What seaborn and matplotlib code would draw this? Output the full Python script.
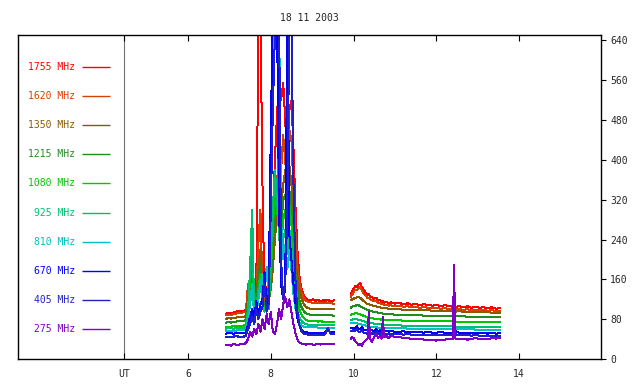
import matplotlib
matplotlib.use("Agg")
import matplotlib.pyplot as plt
import numpy as np
import pandas as pd
import seaborn as sns

title = "18 11 2003"
freqs = ["1755 MHz", "1620 MHz", "1350 MHz", "1215 MHz", "1080 MHz",
         "925 MHz", "810 MHz", "670 MHz", "405 MHz", "275 MHz"]
colors = ["#ff0000", "#d84000", "#8b5a00", "#228b22", "#00c800",
          "#00c070", "#00c0c0", "#0000ff", "#2020c8", "#8000c8"]

xticks = [6, 8, 10, 12, 14]
yticks = [0, 80, 160, 240, 320, 400, 480, 560, 640]
ut_hour = 4.45

# segment 1 time grid (hours UT): pre-burst, burst, post-burst
t1_pre = [6.92, 6.98, 7.04, 7.10, 7.16, 7.22, 7.28]
t1_burst = [7.35, 7.40, 7.45, 7.50, 7.55, 7.60, 7.65, 7.70, 7.75, 7.80,
            7.85, 7.90, 7.95, 8.00, 8.05, 8.10, 8.15, 8.20, 8.25, 8.30,
            8.35, 8.40, 8.45, 8.50, 8.55, 8.60, 8.65, 8.70, 8.75, 8.80,
            8.85, 8.90]
t1_post = [8.96, 9.02, 9.08, 9.14, 9.20, 9.26, 9.32, 9.38, 9.44, 9.53]
t1 = t1_pre + t1_burst + t1_post

# segment 2 time grid
t2 = [9.93, 9.97, 10.0, 10.04, 10.08, 10.12, 10.16, 10.2, 10.25, 10.3,
      10.34, 10.37, 10.40, 10.45, 10.5, 10.55, 10.6, 10.64, 10.68, 10.71,
      10.74, 10.8, 10.85, 10.9, 11.0, 11.1, 11.2, 11.3, 11.4, 11.5,
      11.6, 11.7, 11.8, 11.9, 12.0, 12.1, 12.2, 12.3, 12.40, 12.43,
      12.46, 12.55, 12.65, 12.75, 12.85, 12.95, 13.05, 13.15, 13.25, 13.35,
      13.45, 13.54]

s1755_a = [91, 93, 92, 93, 95, 97, 96,
           97, 100, 140, 120, 185, 110, 130, 700, 700, 350,
           115, 145, 125, 200, 280, 400, 490, 560, 520, 555,
           480, 380, 500, 520, 420, 300, 210, 160, 138, 128,
           122, 119,
           118, 120, 117, 119, 116, 118, 117, 119, 116, 118]
s1755_b = [131, 137, 141, 146, 144, 150, 153, 145, 138, 133,
           128, 130, 126, 124, 121, 123, 117, 119, 114, 116,
           113, 115, 112, 114, 111, 113, 110, 112, 109, 111,
           108, 110, 109, 107, 109, 106, 108, 107, 105, 107,
           105, 106, 104, 106, 103, 105, 103, 104, 102, 104,
           101, 103]

s1620_a = [88, 89, 88, 90, 91, 93, 93,
           94, 96, 150, 130, 200, 115, 120, 230, 300, 140,
           120, 135, 120, 150, 200, 280, 350, 420, 380, 450,
           400, 330, 460, 440, 340, 250, 180, 150, 132, 122,
           117, 115,
           114, 113, 113, 112, 113, 112, 113, 112, 112, 111]
s1620_b = [124, 130, 134, 139, 138, 142, 144, 138, 131, 127,
           122, 123, 120, 118, 116, 117, 112, 113, 110, 111,
           108, 109, 107, 108, 106, 107, 105, 106, 104, 105,
           103, 104, 103, 102, 103, 101, 102, 101, 100, 101,
           100, 100, 99, 100, 98, 99, 98, 98, 97, 98,
           96, 97]

s1350_a = [81, 82, 81, 82, 83, 84, 84,
           84, 88, 125, 115, 170, 105, 110, 180, 220, 125,
           110, 125, 115, 140, 180, 240, 290, 330, 300, 350,
           380, 300, 390, 350, 270, 200, 160, 135, 120, 110,
           105, 102,
           101, 101, 101, 100, 100, 101, 100, 100, 100, 100]
s1350_b = [118, 120, 121, 123, 124, 125, 123, 120, 116, 113,
           110, 110, 109, 108, 106, 106, 104, 104, 103, 103,
           102, 102, 101, 101, 100, 100, 99, 99, 99, 98,
           98, 98, 98, 97, 97, 97, 96, 96, 96, 96,
           95, 96, 95, 95, 95, 94, 94, 94, 94, 93,
           93, 93]

s1215_a = [73, 74, 73, 74, 75, 76, 76,
           76, 80, 110, 130, 200, 100, 105, 160, 190, 120,
           105, 120, 110, 150, 230, 300, 320, 280, 260, 320,
           330, 260, 340, 300, 230, 170, 135, 115, 103, 96,
           92, 90,
           89, 89, 89, 88, 88, 88, 88, 88, 88, 87]
s1215_b = [103, 105, 106, 107, 108, 108, 106, 104, 102, 100,
           98, 98, 97, 96, 94, 94, 93, 92, 92, 91,
           91, 91, 90, 90, 89, 89, 89, 88, 88, 88,
           88, 87, 87, 87, 87, 87, 86, 86, 86, 86,
           86, 86, 86, 85, 85, 85, 85, 85, 84, 84,
           84, 84]

s1080_a = [65, 65, 65, 66, 66, 67, 67,
           67, 70, 100, 160, 240, 95, 100, 140, 170, 115,
           100, 115, 105, 170, 260, 340, 300, 260, 220, 280,
           300, 240, 310, 270, 200, 150, 115, 98, 88, 82,
           79, 77,
           76, 76, 76, 75, 76, 75, 75, 75, 75, 75]
s1080_b = [88, 90, 91, 92, 92, 91, 90, 88, 87, 85,
           84, 84, 83, 82, 81, 81, 80, 80, 79, 79,
           79, 79, 78, 78, 78, 78, 77, 77, 77, 77,
           77, 77, 76, 76, 76, 76, 76, 76, 76, 76,
           75, 75, 75, 75, 75, 75, 75, 75, 74, 74,
           74, 74]

s925_a = [61, 62, 62, 61, 62, 63, 63,
          63, 66, 95, 180, 300, 90, 95, 130, 160, 110,
          95, 110, 100, 200, 300, 380, 320, 250, 200, 240,
          260, 210, 260, 220, 160, 120, 95, 82, 76, 72,
          70, 69,
          69, 69, 69, 68, 68, 68, 68, 68, 68, 68]
s925_b = [78, 79, 80, 80, 80, 79, 78, 77, 76, 74,
          73, 73, 72, 72, 71, 71, 70, 70, 69, 69,
          69, 69, 69, 68, 68, 68, 67, 67, 67, 67,
          67, 67, 67, 66, 66, 66, 66, 66, 66, 66,
          65, 65, 65, 65, 65, 65, 65, 64, 64, 64,
          64, 64]

s810_a = [56, 57, 57, 56, 57, 58, 58,
          58, 60, 80, 110, 150, 85, 90, 120, 150, 170,
          130, 185, 140, 350, 600, 700, 700, 700, 280, 200,
          230, 180, 220, 180, 130, 100, 82, 72, 67, 65,
          64, 64,
          64, 64, 64, 63, 63, 63, 63, 63, 63, 63]
s810_b = [72, 72, 73, 73, 72, 71, 70, 69, 68, 67,
          66, 66, 65, 65, 64, 64, 63, 63, 63, 63,
          63, 63, 62, 62, 62, 62, 62, 61, 61, 61,
          61, 61, 61, 61, 61, 60, 60, 60, 60, 60,
          60, 60, 60, 60, 60, 59, 59, 59, 59, 59,
          59, 59]

s670_a = [51, 53, 52, 51, 52, 53, 52,
          52, 54, 70, 85, 100, 80, 117, 90, 110, 120,
          174, 110, 130, 450, 700, 700, 700, 300, 150, 120,
          140, 700, 250, 200, 150, 110, 80, 65, 58, 55,
          54, 53,
          53, 53, 52, 53, 52, 52, 54, 58, 54, 54]
s670_b = [62, 63, 63, 62, 66, 61, 60, 64, 59, 58,
          57, 66, 57, 58, 56, 60, 56, 58, 56, 64,
          55, 57, 55, 56, 55, 54, 56, 54, 54, 55,
          54, 53, 54, 53, 53, 54, 53, 53, 53, 54,
          56, 53, 52, 53, 52, 52, 53, 52, 51, 52,
          51, 52]

s405_a = [44, 45, 44, 45, 46, 45, 45,
          45, 47, 60, 70, 85, 70, 100, 80, 95, 105,
          150, 95, 110, 300, 500, 650, 700, 700, 200, 120,
          150, 300, 700, 700, 350, 150, 90, 65, 55, 51,
          50, 49,
          49, 49, 48, 48, 48, 48, 50, 62, 51, 51]
s405_b = [56, 57, 58, 56, 60, 55, 54, 58, 52, 52,
          50, 58, 50, 52, 50, 55, 50, 52, 50, 60,
          51, 50, 50, 51, 50, 50, 49, 50, 49, 49,
          49, 49, 49, 48, 48, 49, 48, 48, 48, 49,
          50, 48, 48, 48, 47, 48, 47, 47, 47, 47,
          47, 47]

s275_a = [28, 29, 27, 30, 29, 28, 30,
          30, 32, 40, 55, 45, 60, 50, 70, 55, 80,
          60, 90, 70, 95, 55, 50, 70, 100, 80, 110,
          125, 105, 120, 95, 70, 50, 38, 32, 31, 30,
          29, 30,
          30, 29, 29, 30, 29, 30, 31, 30, 31, 31]
s275_b = [40, 44, 42, 36, 33, 28, 31, 26, 34, 38,
          42, 94, 40, 35, 44, 50, 42, 47, 41, 84,
          44, 46, 42, 47, 44, 45, 42, 43, 40, 41,
          40, 39, 38, 39, 37, 38, 39, 40, 41, 190,
          41, 40, 41, 39, 40, 42, 40, 41, 40, 42,
          41, 42]

series = {
    "1755 MHz": (s1755_a, s1755_b), "1620 MHz": (s1620_a, s1620_b),
    "1350 MHz": (s1350_a, s1350_b), "1215 MHz": (s1215_a, s1215_b),
    "1080 MHz": (s1080_a, s1080_b), "925 MHz": (s925_a, s925_b),
    "810 MHz": (s810_a, s810_b), "670 MHz": (s670_a, s670_b),
    "405 MHz": (s405_a, s405_b), "275 MHz": (s275_a, s275_b),
}

rows = []
for f in freqs:
    a, b = series[f]
    assert len(a) == len(t1), (f, len(a), len(t1))
    assert len(b) == len(t2), (f, len(b), len(t2))
    for t, v in zip(t1, a):
        rows.append((f, "a", t, v))
    for t, v in zip(t2, b):
        rows.append((f, "b", t, v))
df = pd.DataFrame(rows, columns=["freq", "seg", "time", "value"])

sns.set_theme(style="white")
plt.rcParams["font.family"] = ["DejaVu Sans Mono", "DejaVu Sans"]
plt.rcParams["font.size"] = 7

fig = plt.figure(figsize=(6.4, 3.84), dpi=100)
ax = fig.add_axes([18 / 640, 25 / 384, 583 / 640, 324 / 384])

ax.axvline(ut_hour, color="#707070", lw=0.8, zorder=0)

palette = dict(zip(freqs, colors))
sns.lineplot(data=df, x="time", y="value", hue="freq", units="seg",
             estimator=None, sort=False, palette=palette, hue_order=freqs,
             legend=False, lw=0.72, antialiased=False, ax=ax)

ax.set_xlim(1.891, 15.982)
ax.set_ylim(0, 651)
ax.set_xlabel("")
ax.set_ylabel("")

for sp in ax.spines.values():
    sp.set_visible(True)
    sp.set_color("black")
    sp.set_linewidth(1.0)

ax.set_xticks([ut_hour] + xticks)
ax.set_xticklabels(["UT"] + [str(x) for x in xticks])
ax.tick_params(axis="x", direction="in", top=True, bottom=True, length=4,
               width=0.8, color="black", pad=7, labelsize=7)
ax.yaxis.tick_right()
ax.set_yticks(yticks)
ax.set_yticklabels([str(y) for y in yticks])
ax.tick_params(axis="y", direction="out", left=False, right=True, length=3.5,
               width=0.8, color="black", pad=3, labelsize=7)

ax.set_title(title, fontsize=7, pad=10)

# legend column
y0 = 0.901
dy = 0.0898
for i, (f, c) in enumerate(zip(freqs, colors)):
    y = y0 - i * dy
    ax.text(0.0978, y, f, ha="right", va="center", color=c, fontsize=7,
            transform=ax.transAxes)
    ax.plot([0.1098, 0.1578], [y, y], color=c, lw=1.0,
            solid_capstyle="butt", transform=ax.transAxes)

fig.savefig("out.png", dpi=100, facecolor="white")
